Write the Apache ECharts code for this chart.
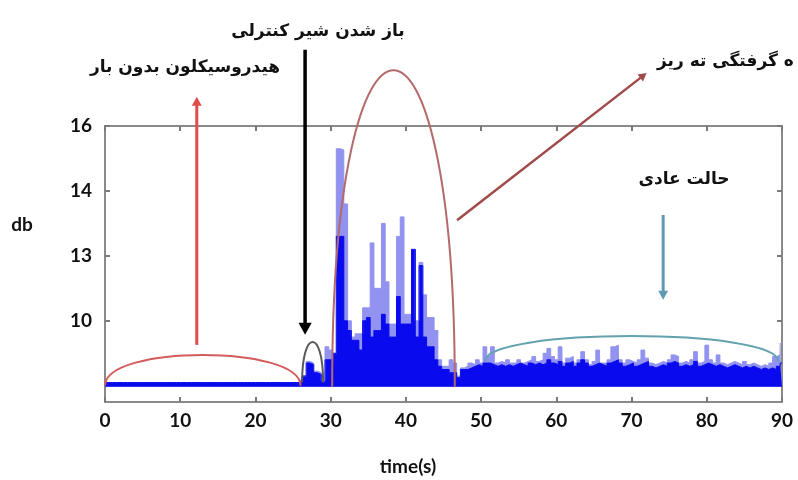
<!DOCTYPE html>
<html>
<head>
<meta charset="utf-8">
<script src="https://cdn.jsdelivr.net/npm/echarts@6.0.0/dist/echarts.min.js"></script>
<style>
html, body { margin: 0; background: #fff; }
#chart { width: 798px; height: 480px; }
</style>
</head>
<body>
<div id="chart"></div>
<script>
// one sample every half second, 0 .. 90 s
var STEP = 0.5;

var yTickValues = [10, 12, 14, 16];
var yTickLabels = ['10', '13', '14', '16'];

// 0 .. 26 s : hydrocyclone running empty
var idleDb = [
    8.1, 8.1, 8.1, 8.1, 8.1, 8.1, 8.1, 8.1, 8.1, 8.1,
    8.1, 8.1, 8.1, 8.1, 8.1, 8.1, 8.1, 8.1, 8.1, 8.1,
    8.1, 8.1, 8.1, 8.1, 8.1, 8.1, 8.1, 8.1, 8.1, 8.1,
    8.1, 8.1, 8.1, 8.1, 8.1, 8.1, 8.1, 8.1, 8.1, 8.1,
    8.1, 8.1, 8.1, 8.1, 8.1, 8.1, 8.1, 8.1, 8.1, 8.1,
    8.1, 8.1, 8.1
];

// 26.5 .. 90 s, dark (mean) trace
var meanDb = [
    8.3, 8.7, 8.65, 8.4, 8.35, 8.1, 8.8, 8.8, 9.0, 12.6,
    12.6, 10.0, 9.7, 9.4, 9.4, 9.1, 10.0, 10.1, 9.5, 9.7,
    9.7, 10.2, 9.9, 9.5, 9.5, 10.75, 9.9, 9.9, 9.9, 12.2,
    9.5, 11.7, 9.5, 9.2, 9.2, 8.8, 8.6, 8.5, 8.5, 8.4,
    8.4, 8.25, 8.5, 8.5, 8.55, 8.6, 8.65, 8.6, 8.7, 8.7,
    8.65, 8.6, 8.65, 8.6, 8.65, 8.6, 8.65, 8.7, 8.65, 8.6,
    8.7, 8.65, 8.7, 8.65, 8.7, 8.8, 8.7, 8.65, 8.75, 8.6,
    8.7, 8.75, 8.6, 8.7, 8.8, 8.7, 8.6, 8.65, 8.7, 8.65,
    8.6, 8.7, 8.75, 8.8, 8.7, 8.6, 8.65, 8.7, 8.6, 8.65,
    8.7, 8.75, 8.6, 8.55, 8.6, 8.65, 8.6, 8.7, 8.75, 8.7,
    8.6, 8.65, 8.6, 8.65, 8.75, 8.6, 8.65, 8.7, 8.65, 8.6,
    8.65, 8.6, 8.55, 8.6, 8.65, 8.6, 8.55, 8.6, 8.55, 8.6,
    8.55, 8.5, 8.55, 8.5, 8.55, 8.5, 8.6, 8.7
];

// 26.5 .. 90 s, light (peak) trace
var peakDb = [
    8.3, 8.75, 8.7, 8.45, 8.4, 8.15, 9.2, 9.1, 9.0, 15.3,
    15.26, 13.6, 10.0, 9.5, 9.6, 9.6, 10.4, 10.4, 12.4, 11.0,
    11.0, 13.0, 11.2, 9.9, 9.9, 12.6, 13.2, 10.2, 10.2, 12.2,
    10.0, 11.8, 10.8, 10.1, 10.1, 9.7, 8.8, 8.6, 8.6, 8.8,
    8.7, 8.3, 8.55, 8.6, 8.7, 8.65, 8.8, 8.7, 9.2, 8.9,
    9.2, 8.7, 8.75, 8.7, 8.8, 8.7, 8.7, 8.8, 8.7, 8.75,
    8.8, 8.9, 8.75, 8.8, 9.0, 9.15, 8.9, 8.8, 9.2, 8.7,
    8.85, 8.9, 8.7, 8.8, 9.05, 8.8, 8.65, 8.75, 9.1, 8.7,
    8.7, 8.8, 9.2, 9.25, 8.8, 8.7, 8.8, 8.75, 8.7, 8.8,
    9.1, 8.85, 8.7, 8.65, 8.7, 8.75, 8.7, 8.8, 8.95, 8.9,
    8.7, 8.75, 8.7, 8.8, 9.05, 8.7, 8.75, 9.25, 8.8, 8.7,
    8.95, 8.7, 8.65, 8.7, 8.75, 8.7, 8.65, 8.75, 8.65, 8.7,
    8.65, 8.6, 8.65, 8.6, 8.7, 8.9, 8.95, 9.3
];

// annotation arcs: [from s, to s, base db, top db, colour]
var arcs = [
    [0, 26, 8.0, 8.95, '#d45c5c'],
    [26.2, 29.0, 8.1, 9.35, '#5a5a5a'],
    [30.2, 46.5, 7.97, 17.72, '#b46a6a'],
    [50.5, 89.5, 8.75, 9.53, '#62a2ac']
];

// annotation arrows: [x0, y0, x1, y1, colour, width, head]
var arrows = [
    [12.2, 9.26, 12.2, 16.9, '#e04c4c', 3, 9],
    [26.6, 18.35, 26.6, 9.57, '#000000', 3.5, 12],
    [46.8, 13.1, 72.0, 17.63, '#a04a4a', 2.5, 8],
    [74.2, 13.26, 74.2, 10.65, '#5f9ab2', 3, 9]
];

var toPairs = function(vals) {
    return vals.map(function(v, i) { return [i * STEP, v]; });
};

var boxLine = { show: true, onZero: false, lineStyle: { color: '#8a8a8a', width: 2 } };
var boxTick = { show: true, inside: true, length: 5, lineStyle: { color: '#7a7a7a', width: 2 } };
var labelFont = { color: '#111', fontFamily: 'Lato', fontWeight: 'bold', fontSize: 19 };

var myChart = echarts.init(document.getElementById('chart'), null, { renderer: 'canvas' });
myChart.setOption({
    animation: false,
    backgroundColor: '#ffffff',
    grid: { left: 105, right: 16, top: 126, bottom: 78 },
    xAxis: [{
        type: 'value', min: 0, max: 90, interval: 10,
        axisLine: boxLine, axisTick: boxTick,
        axisLabel: Object.assign({ margin: 9 }, labelFont),
        splitLine: { show: false }
    }, {
        type: 'value', position: 'top', min: 0, max: 90, interval: 10,
        axisLine: boxLine, axisTick: boxTick,
        axisLabel: { show: false },
        splitLine: { show: false }
    }],
    yAxis: [{
        type: 'value', min: 7.5, max: 16,
        axisLine: boxLine,
        axisTick: Object.assign({ customValues: yTickValues }, boxTick),
        axisLabel: Object.assign({
            margin: 13,
            customValues: yTickValues,
            formatter: function(v) { return yTickLabels[yTickValues.indexOf(v)]; }
        }, labelFont),
        splitLine: { show: false }
    }, {
        type: 'value', position: 'right', min: 7.5, max: 16,
        axisLine: boxLine,
        axisTick: Object.assign({ customValues: yTickValues }, boxTick),
        axisLabel: { show: false },
        splitLine: { show: false }
    }],
    series: [{
        name: 'peak',
        type: 'line',
        step: 'middle',
        symbol: 'none',
        data: toPairs(idleDb.concat(peakDb)),
        lineStyle: { color: '#9292f0', width: 1 },
        areaStyle: { color: '#9292f0', opacity: 1, origin: 7.97 }
    }, {
        name: 'mean',
        type: 'line',
        step: 'middle',
        symbol: 'none',
        data: toPairs(idleDb.concat(meanDb)),
        lineStyle: { color: '#0a0aee', width: 1 },
        areaStyle: { color: '#0a0aee', opacity: 1, origin: 7.97 }
    }]
});

var px = function(p) { return myChart.convertToPixel({ seriesIndex: 0 }, p); };
var g = [];

arcs.forEach(function(a) {
    var p0 = px([a[0], a[2]]), p1 = px([a[1], a[2]]), top = px([a[0], a[3]]);
    var lift = (p0[1] - top[1]) * 4 / 3;
    g.push({
        type: 'bezierCurve', z: 10,
        shape: { x1: p0[0], y1: p0[1], x2: p1[0], y2: p1[1],
                 cpx1: p0[0], cpy1: p0[1] - lift, cpx2: p1[0], cpy2: p1[1] - lift },
        style: { stroke: a[4], lineWidth: 2, fill: 'none' }
    });
});

arrows.forEach(function(a) {
    var p0 = px([a[0], a[1]]), p1 = px([a[2], a[3]]);
    var dx = p1[0] - p0[0], dy = p1[1] - p0[1];
    var len = Math.sqrt(dx * dx + dy * dy), ux = dx / len, uy = dy / len;
    var hs = a[6], hw = hs * 0.55;
    var bx = p1[0] - ux * hs, by = p1[1] - uy * hs;
    g.push({
        type: 'line', z: 11,
        shape: { x1: p0[0], y1: p0[1], x2: bx + ux, y2: by + uy },
        style: { stroke: a[4], lineWidth: a[5] }
    });
    g.push({
        type: 'polygon', z: 11,
        shape: { points: [[p1[0], p1[1]], [bx - uy * hw, by + ux * hw], [bx + uy * hw, by - ux * hw]] },
        style: { fill: a[4] }
    });
});

var note = function(text, x, y, align, font) {
    g.push({
        type: 'text', x: x, y: y, z: 12,
        style: { text: text, fill: '#111', font: font, align: align, verticalAlign: 'middle' }
    });
};
var persian = 'bold 17px "DejaVu Sans"';
note('هیدروسیکلون بدون بار', 185, 68, 'center', persian);
note('باز شدن شیر کنترلی', 318, 32, 'center', persian);
note('ه گرفتگی ته ریز', 657, 62, 'left', persian);
note('حالت عادی', 684, 180, 'center', persian);
note('db', 22, 225, 'center', 'bold 19px Lato');
note('time(s)', 408, 467, 'center', 'bold 19px Lato');

myChart.setOption({ graphic: g });
</script>
</body>
</html>
